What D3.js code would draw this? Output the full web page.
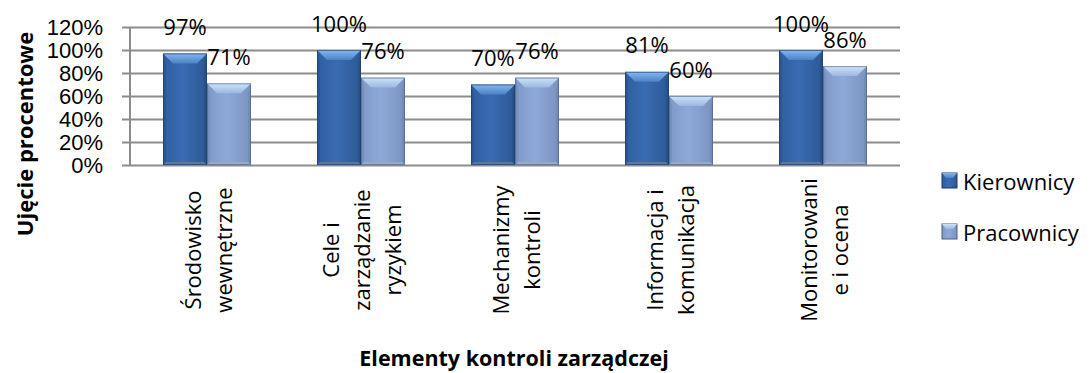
<!DOCTYPE html>
<html>
<head>
<meta charset="utf-8">
<script src="https://cdn.jsdelivr.net/npm/d3@7"></script>
<style>
  html, body { margin: 0; padding: 0; background: #fff; }
  svg { display: block; font-family: "Open Sans", "Noto Sans", sans-serif; }
</style>
</head>
<body>
<svg id="chart" width="1090" height="373"></svg>
<script>
// Category labels (wrapped as in the axis), series and values
const categories = [
  ["Środowisko", "wewnętrzne"],
  ["Cele i", "zarządzanie", "ryzykiem"],
  ["Mechanizmy", "kontroli"],
  ["Informacja i", "komunikacja"],
  ["Monitorowani", "e i ocena"]
];
const seriesNames = ["Kierownicy", "Pracownicy"];
const kierownicy = [0.97, 1.00, 0.70, 0.81, 1.00];
const pracownicy = [0.71, 0.76, 0.76, 0.60, 0.86];
const yTicks = [0, 0.2, 0.4, 0.6, 0.8, 1.0, 1.2];
const yTitle = "Ujęcie procentowe";
const xTitle = "Elementy kontroli zarządczej";

const svg = d3.select("#chart");
const plot = { left: 130, right: 900, top: 27, bottom: 165 };

const catIdx = d3.range(categories.length);
const x0 = d3.scaleBand().domain(catIdx).range([plot.left, plot.right])
  .paddingInner(0.4286).paddingOuter(0.2143);
const x1 = d3.scaleBand().domain(seriesNames).range([0, x0.bandwidth()]).padding(0);
const y = d3.scaleLinear().domain([0, 1.2]).range([plot.bottom, plot.top]);

// Colour palettes for the bevelled bars
const palette = {
  Kierownicy: { face: ["#2f5e9f", "#3a6cb3", "#2c5893"], top: ["#86b8ee", "#4b82c6"], side: "#284f86", bottom: "#5a77a0", edge: "#1d3a63" },
  Pracownicy: { face: ["#7f98c6", "#8ea9d9", "#7a93c0"], top: ["#cfe3f8", "#9bb7e2"], side: "#7088b5", bottom: "#9aa9c4", edge: "#4a5f86" }
};

const defs = svg.append("defs");
seriesNames.forEach((s, i) => {
  const p = palette[s];
  const gf = defs.append("linearGradient").attr("id", "face" + i).attr("x1", 0).attr("x2", 1).attr("y1", 0).attr("y2", 0);
  gf.append("stop").attr("offset", "0%").attr("stop-color", p.face[0]);
  gf.append("stop").attr("offset", "45%").attr("stop-color", p.face[1]);
  gf.append("stop").attr("offset", "100%").attr("stop-color", p.face[2]);
  const gt = defs.append("linearGradient").attr("id", "top" + i).attr("x1", 0).attr("x2", 0).attr("y1", 0).attr("y2", 1);
  gt.append("stop").attr("offset", "0%").attr("stop-color", p.top[0]);
  gt.append("stop").attr("offset", "100%").attr("stop-color", p.top[1]);
});

// Gridlines and y axis
const yAxis = d3.axisLeft(y).tickValues(yTicks).tickFormat(d3.format(".0%"))
  .tickSize(-(plot.right - plot.left)).tickPadding(27);
const gy = svg.append("g").attr("transform", `translate(${plot.left},0)`).call(yAxis);
gy.select(".domain").remove();
gy.selectAll(".tick line").attr("x1", -8).attr("stroke", "#8c8c8c").attr("stroke-width", 2);
gy.selectAll(".tick text").attr("font-size", 22).attr("fill", "#000").attr("dy", "0.36em");
svg.append("line").attr("x1", plot.left).attr("x2", plot.left)
  .attr("y1", plot.top).attr("y2", plot.bottom).attr("stroke", "#8c8c8c").attr("stroke-width", 2);

// Bars
const data = catIdx.flatMap(c => [
  { c, s: seriesNames[0], si: 0, v: kierownicy[c] },
  { c, s: seriesNames[1], si: 1, v: pracownicy[c] }
]);

const bars = svg.append("g").selectAll("g").data(data).join("g");
bars.each(function (d) {
  const g = d3.select(this);
  const p = palette[d.s];
  const xa = x0(d.c) + x1(d.s), w = x1.bandwidth();
  const xb = xa + w, yt = y(d.v), yb = y(0);
  const b = 10, sw = 3, bb = 3;
  g.append("rect").attr("x", xa).attr("y", yt).attr("width", w).attr("height", yb - yt)
    .attr("fill", `url(#face${d.si})`);
  // side strips
  g.append("polygon").attr("points", [[xa, yt], [xa + sw, yt + b], [xa + sw, yb - bb], [xa, yb]].join(" "))
    .attr("fill", p.side).attr("opacity", 0.55);
  g.append("polygon").attr("points", [[xb, yt], [xb - sw, yt + b], [xb - sw, yb - bb], [xb, yb]].join(" "))
    .attr("fill", p.side).attr("opacity", 0.8);
  // bottom strip
  g.append("polygon").attr("points", [[xa, yb], [xa + sw, yb - bb], [xb - sw, yb - bb], [xb, yb]].join(" "))
    .attr("fill", p.bottom);
  // top bevel
  g.append("polygon").attr("points", [[xa, yt], [xb, yt], [xb - b, yt + b], [xa + b, yt + b]].join(" "))
    .attr("fill", `url(#top${d.si})`);
  g.append("rect").attr("x", xa + 0.5).attr("y", yt + 0.5).attr("width", w - 1).attr("height", yb - yt - 1)
    .attr("fill", "none").attr("stroke", p.edge).attr("stroke-width", 1).attr("opacity", 0.6);
});

// Value labels
svg.append("g").selectAll("text").data(data).join("text")
  .attr("x", d => x0(d.c) + x1(d.s) + x1.bandwidth() / 2)
  .attr("y", d => y(d.v) - 18.5)
  .attr("text-anchor", "middle").attr("font-size", 22).attr("fill", "#000")
  .text(d => d3.format(".0%")(d.v));

// Rotated category labels
const lineGap = 31;
const catLabels = svg.append("g").selectAll("text").data(catIdx).join("text")
  .attr("transform", c => `translate(${x0(c) + x0.bandwidth() / 2},250) rotate(-90)`)
  .attr("text-anchor", "middle").attr("font-size", 22).attr("fill", "#000");
catLabels.each(function (c) {
  const lines = categories[c];
  d3.select(this).selectAll("tspan").data(lines).join("tspan")
    .attr("x", 0)
    .attr("y", (l, i) => (i - (lines.length - 1) / 2) * lineGap)
    .attr("dominant-baseline", "central")
    .text(l => l);
});

// Axis titles
svg.append("text").attr("transform", "translate(24,134) rotate(-90)")
  .attr("text-anchor", "middle").attr("dominant-baseline", "central")
  .attr("font-size", 22).attr("font-weight", "bold").text(yTitle);
svg.append("text").attr("x", 514).attr("y", 366)
  .attr("text-anchor", "middle").attr("font-size", 21.5).attr("font-weight", "bold").text(xTitle);

// Legend
const legend = svg.append("g").selectAll("g").data(seriesNames).join("g")
  .attr("transform", (s, i) => `translate(942,${173 + i * 51})`);
legend.append("rect").attr("width", 15).attr("height", 15).attr("fill", (s, i) => `url(#face${i})`)
  .attr("stroke", s => palette[s].edge).attr("stroke-width", 1);
legend.append("polygon").attr("points", "0,0 15,0 11,5 4,5").attr("fill", (s, i) => `url(#top${i})`);
legend.append("text").attr("x", 21).attr("y", 8).attr("dominant-baseline", "central")
  .attr("font-size", 22).attr("fill", "#000").text(s => s);
</script>
</body>
</html>
